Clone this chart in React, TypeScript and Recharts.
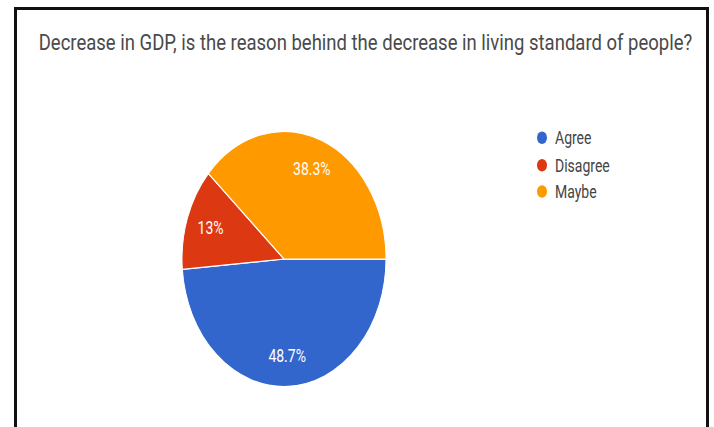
import { PieChart, Pie, Cell, Legend } from 'recharts';

const categories = ['Agree', 'Disagree', 'Maybe'];
const shares = [48.7, 13, 38.3];
const sliceLabels = ['48.7%', '13%', '38.3%'];
const colors = ['#3366cc', '#dc3912', '#ff9900'];

const title = 'Decrease in GDP, is the reason behind the decrease in living standard of people?';

const data = categories.map((name, i) => ({ name, value: shares[i] }));

const RADIAN = Math.PI / 180;

const renderLabel = (props: any) => {
  const { cx, cy, midAngle, outerRadius, index } = props;
  const r = outerRadius * 0.76;
  const x = cx + r * Math.cos(-midAngle * RADIAN);
  const y = cy + r * Math.sin(-midAngle * RADIAN);
  return (
    <text
      x={x}
      y={y}
      fill="#fff"
      textAnchor="middle"
      dominantBaseline="central"
      fontSize={14}
      fontFamily="Roboto, Arial, sans-serif"
    >
      {sliceLabels[index]}
    </text>
  );
};

const renderLegend = () => (
  <div style={{ fontFamily: 'Roboto, Arial, sans-serif', fontSize: 14, color: '#444' }}>
    {categories.map((c, i) => (
      <div key={c} style={{ display: 'flex', alignItems: 'center', height: 21.8 }}>
        <span
          style={{
            width: 10,
            height: 10,
            borderRadius: '50%',
            background: colors[i],
            display: 'inline-block',
            marginRight: 8,
          }}
        />
        <span>{c}</span>
      </div>
    ))}
  </div>
);

export default function App() {
  return (
    <div
      style={{
        position: 'absolute',
        left: 0,
        top: 0,
        width: 714,
        height: 427,
        overflow: 'hidden',
        background: '#fff',
      }}
    >
      <div
        style={{
          position: 'absolute',
          left: 14,
          top: 7,
          width: 689,
          height: 460,
          border: '3px solid #111',
        }}
      />
      <div
        style={{
          position: 'absolute',
          left: 0,
          top: 32,
          width: 731,
          textAlign: 'center',
          fontFamily: 'Roboto, Arial, sans-serif',
          fontSize: 18.5,
          color: '#4a4a4a',
          whiteSpace: 'nowrap',
          transform: 'scaleY(1.18)',
        }}
      >
        {title}
      </div>
      <div
        style={{
          position: 'absolute',
          left: 0,
          top: 0,
          transform: 'scaleY(1.25)',
          transformOrigin: '0 259px',
        }}
      >
        <PieChart width={714} height={427}>
          <Pie
            data={data}
            dataKey="value"
            nameKey="name"
            cx={279}
            cy={254}
            outerRadius={102}
            startAngle={0}
            endAngle={-360}
            stroke="#fff"
            strokeWidth={1}
            label={renderLabel}
            labelLine={false}
            isAnimationActive={false}
          >
            {data.map((_, i) => (
              <Cell key={`cell-${i}`} fill={colors[i]} />
            ))}
          </Pie>
          <Legend
            content={renderLegend}
            wrapperStyle={{ position: 'absolute', left: 537, top: 151, width: 'auto' }}
          />
        </PieChart>
      </div>
    </div>
  );
}
